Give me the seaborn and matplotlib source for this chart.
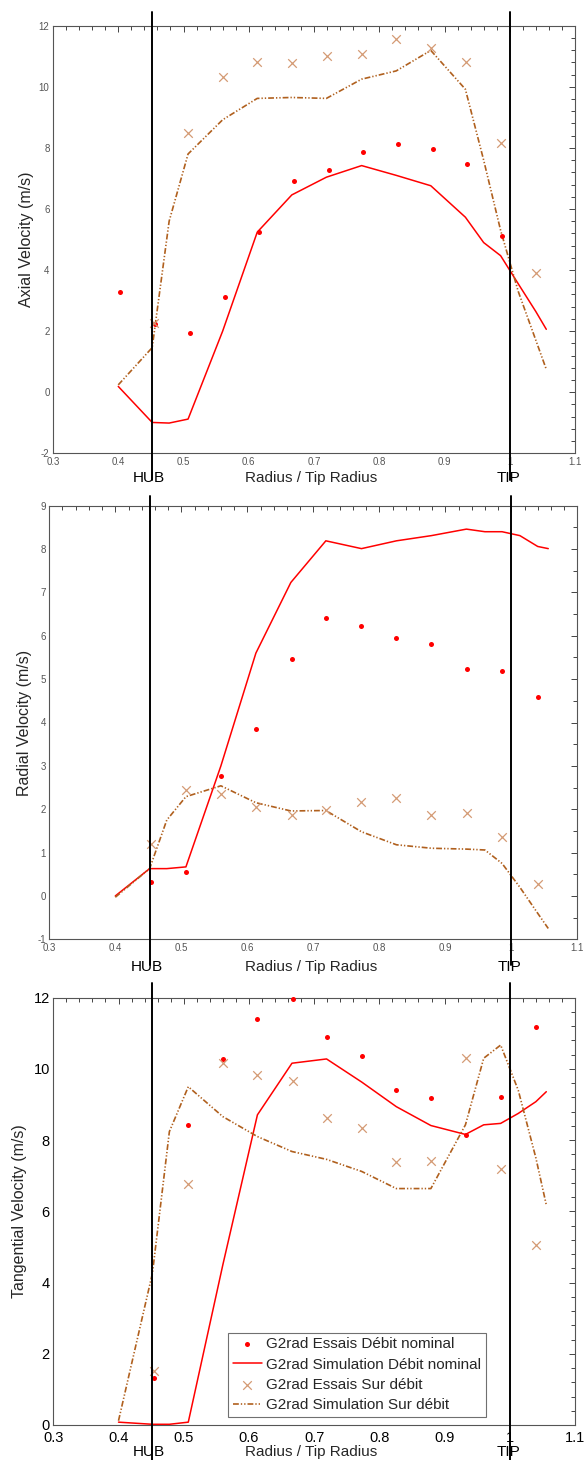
import matplotlib
matplotlib.use("Agg")
import matplotlib.pyplot as plt
import matplotlib.transforms as mtransforms
from matplotlib.ticker import MultipleLocator, FuncFormatter
import seaborn as sns

sns.set_style("white")
plt.rcParams["font.family"] = ["Liberation Sans", "DejaVu Sans"]

# ---------------- data ----------------
exp_x = [0.4545, 0.507, 0.560, 0.613, 0.667, 0.7195, 0.773, 0.826, 0.879, 0.933, 0.986, 1.040]
axial_nom_exp_x = [0.403, 0.4565, 0.510, 0.563, 0.616, 0.669, 0.7225, 0.7757, 0.829, 0.882, 0.935, 0.9885]

sim_x = [0.400, 0.452, 0.478, 0.507, 0.560, 0.613, 0.666, 0.719, 0.773, 0.826,
         0.879, 0.932, 0.960, 0.986, 1.013, 1.040, 1.056]

axial_nom_exp = [3.27, 2.24, 1.94, 3.11, 5.24, 6.93, 7.29, 7.85, 8.12, 7.95, 7.47, 5.12]
axial_sur_exp = [2.25, 8.49, 10.32, 10.80, 10.78, 11.01, 11.07, 11.55, 11.26, 10.80, 8.16, 3.90]
axial_nom_sim = [0.19, -0.99, -1.01, -0.88, 2.0, 5.24, 6.46, 7.04, 7.42, 7.10, 6.76, 5.73, 4.90, 4.47, 3.55, 2.64, 2.06]
axial_sur_sim = [0.24, 1.46, 5.60, 7.80, 8.92, 9.62, 9.65, 9.62, 10.25, 10.52, 11.19, 9.92, 7.60, 5.30, 3.30, 1.70, 0.75]

radial_nom_exp = [0.315, 0.545, 2.76, 3.84, 5.46, 6.41, 6.22, 5.96, 5.80, 5.23, 5.18, 4.59]
radial_sur_exp = [1.19, 2.44, 2.34, 2.05, 1.87, 1.98, 2.16, 2.26, 1.87, 1.91, 1.36, 0.28]
radial_nom_sim = [0.00, 0.63, 0.63, 0.67, 3.00, 5.60, 7.23, 8.19, 8.01, 8.19, 8.31, 8.46, 8.40, 8.40, 8.31, 8.06, 8.01]
radial_sur_sim = [-0.03, 0.63, 1.75, 2.29, 2.54, 2.15, 1.96, 1.97, 1.48, 1.18, 1.10, 1.08, 1.06, 0.75, 0.20, -0.40, -0.75]

tang_nom_exp = [1.31, 8.43, 10.27, 11.40, 11.96, 10.91, 10.36, 9.41, 9.17, 8.14, 9.21, 11.18]
tang_sur_exp = [1.53, 6.76, 10.16, 9.83, 9.66, 8.61, 8.33, 7.38, 7.41, 10.30, 7.18, 5.06]
tang_nom_sim = [0.08, 0.02, 0.02, 0.08, 4.50, 8.71, 10.16, 10.28, 9.63, 8.94, 8.41, 8.16, 8.43, 8.47, 8.75, 9.08, 9.36]
tang_sur_sim = [0.12, 4.26, 8.24, 9.50, 8.66, 8.10, 7.68, 7.46, 7.12, 6.64, 6.64, 8.43, 10.30, 10.67, 9.40, 7.50, 6.18]

hub_x = 0.452
tip_x = 1.0

labels = ["G2rad Essais Débit nominal", "G2rad Simulation Débit nominal",
          "G2rad Essais Sur débit", "G2rad Simulation Sur débit"]

RED = "#ff0000"
TAN = "#d49a74"
BROWN = "#b0601e"
DASHDOT = (0, (3.5, 1.2, 0.8, 1.2, 0.8, 1.2))

W, H = 587, 1460
fig = plt.figure(figsize=(W / 100, H / 100), dpi=100)

panels = [
    dict(rect=(53, 25.7, 575, 453.3), ylim=(-2, 12), major=2, minor=0.4,
         ylabel="Axial Velocity (m/s)",
         nom_x=axial_nom_exp_x, nom_exp=axial_nom_exp, sur_exp=axial_sur_exp,
         nom_sim=axial_nom_sim, sur_sim=axial_sur_sim,
         tsize=7, tcolor="#555555", xpad=2.5, vline=(12, 480), label_y=478, ylab_x=27),
    dict(rect=(49.3, 505.7, 577.3, 939.3), ylim=(-1, 9), major=1, minor=0.5,
         ylabel="Radial Velocity (m/s)",
         nom_x=exp_x, nom_exp=radial_nom_exp, sur_exp=radial_sur_exp,
         nom_sim=radial_nom_sim, sur_sim=radial_sur_sim,
         tsize=7, tcolor="#555555", xpad=2.5, vline=(496, 965), label_y=967, ylab_x=25),
    dict(rect=(53.3, 997.7, 575, 1425), ylim=(0, 12), major=2, minor=0.4,
         ylabel="Tangential Velocity (m/s)",
         nom_x=exp_x, nom_exp=tang_nom_exp, sur_exp=tang_sur_exp,
         nom_sim=tang_nom_sim, sur_sim=tang_sur_sim,
         tsize=10.5, tcolor="#000000", xpad=4, vline=(983, 1460), label_y=1452, ylab_x=20),
]

fmt = FuncFormatter(lambda v, p: "%g" % round(v, 6))

for i, p in enumerate(panels):
    l, t, r, b = p["rect"]
    ax = fig.add_axes([l / W, 1 - b / H, (r - l) / W, (b - t) / H])
    hpx = b - t

    sns.scatterplot(x=p["nom_x"], y=p["nom_exp"], ax=ax, color=RED, marker="o",
                    s=13, linewidth=0, label=labels[0], zorder=4, clip_on=False)
    sns.lineplot(x=sim_x, y=p["nom_sim"], ax=ax, color=RED, linewidth=1.1,
                 estimator=None, sort=False, label=labels[1], zorder=3)
    sns.scatterplot(x=exp_x, y=p["sur_exp"], ax=ax, color=TAN, marker="x",
                    s=38, linewidth=0.9, label=labels[2], zorder=4, clip_on=False)
    sns.lineplot(x=sim_x, y=p["sur_sim"], ax=ax, color=BROWN, linewidth=1.2,
                 linestyle=DASHDOT, estimator=None, sort=False,
                 label=labels[3], zorder=3)

    ax.set_xlim(0.3, 1.1)
    ax.set_ylim(*p["ylim"])
    ax.xaxis.set_major_locator(MultipleLocator(0.1))
    ax.xaxis.set_minor_locator(MultipleLocator(0.02))
    ax.yaxis.set_major_locator(MultipleLocator(p["major"]))
    ax.yaxis.set_minor_locator(MultipleLocator(p["minor"]))
    ax.xaxis.set_major_formatter(fmt)
    ax.yaxis.set_major_formatter(fmt)
    ax.tick_params(which="both", direction="in", top=True, right=True,
                   color="#444444", width=0.7)
    ax.tick_params(which="major", length=4.5, labelsize=p["tsize"],
                   labelcolor=p["tcolor"])
    ax.tick_params(axis="x", which="major", pad=p["xpad"])
    ax.tick_params(axis="y", which="major", pad=2.5)
    ax.tick_params(which="minor", length=2.6)
    for s in ax.spines.values():
        s.set_color("#555555")
        s.set_linewidth(0.8)

    # vertical HUB / TIP lines extending beyond the frame
    v0, v1 = p["vline"]
    y_top = (b - v0) / hpx
    y_bot = (b - v1) / hpx
    for xv in (hub_x, tip_x):
        ax.axvline(xv, ymin=y_bot, ymax=y_top, color="black", linewidth=1.4,
                   clip_on=False, zorder=5)

    trans = mtransforms.blended_transform_factory(ax.transData, ax.transAxes)
    ly = (b - p["label_y"]) / hpx
    ax.text(hub_x - 0.005, ly, "HUB", transform=trans, ha="center", va="center",
            fontsize=11, color="black")
    ax.text(tip_x - 0.002, ly, "TIP", transform=trans, ha="center", va="center",
            fontsize=11, color="black")

    ax.set_xlabel("Radius / Tip Radius", fontsize=11)
    ax.xaxis.label.set_va("center")
    ax.xaxis.set_label_coords((311 - l) / (r - l), ly)
    ax.set_ylabel(p["ylabel"], fontsize=11.5)
    ax.yaxis.label.set_va("center")
    ax.yaxis.set_label_coords((p["ylab_x"] - l) / (r - l), 0.5)

    handles, labs = ax.get_legend_handles_labels()
    if i < 2:
        if ax.get_legend() is not None:
            ax.get_legend().remove()
    else:
        leg = ax.legend(handles[:4], labs[:4], loc="lower left",
                        bbox_to_anchor=((228 - l) / (r - l), (b - 1417) / hpx),
                        borderaxespad=0, fontsize=11, frameon=True, fancybox=False,
                        framealpha=1, edgecolor="#707070", handlelength=1.9,
                        handletextpad=0.3, labelspacing=0.42, borderpad=0.3,
                        scatterpoints=1)
        leg.get_frame().set_linewidth(0.8)

fig.savefig("out.png", dpi=100)
